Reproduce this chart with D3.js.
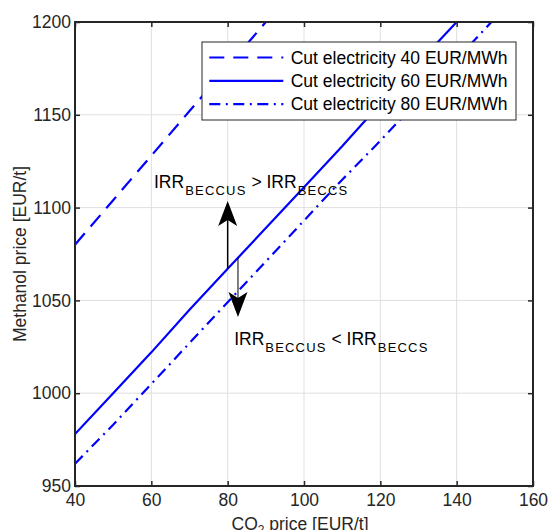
<!DOCTYPE html>
<html>
<head>
<meta charset="utf-8">
<script src="https://cdn.jsdelivr.net/npm/d3@7"></script>
<style>
  html, body { margin: 0; padding: 0; background: #fff; }
  svg { display: block; font-family: "Liberation Sans", Arial, Helvetica, sans-serif; }
</style>
</head>
<body>
<svg id="chart" width="548" height="530"></svg>
<script>
// CO2 price grid [EUR/t]
const co2Price = [40, 50, 60, 70, 80, 90, 100, 110, 120, 130, 140, 150, 160];

// Break-even methanol price [EUR/t] for each cut-electricity price
const methanolCut40 = [1080, 1104, 1128, 1152, 1176, 1200, 1224, 1248, 1272, 1296, 1320, 1344, 1368];
const methanolCut60 = [978, 1000, 1022, 1045, 1067, 1089, 1111, 1133, 1156, 1178, 1200, 1222, 1244];
const methanolCut80 = [962, 983, 1005, 1027, 1049, 1071, 1093, 1115, 1136, 1158, 1180, 1202, 1224];

const seriesNames = ["Cut electricity 40 EUR/MWh", "Cut electricity 60 EUR/MWh", "Cut electricity 80 EUR/MWh"];

const xTicks = [40, 60, 80, 100, 120, 140, 160];
const yTicks = [950, 1000, 1050, 1100, 1150, 1200];

// Arrow annotations in data units: [x, yStart, yEnd]
const arrowUp = [80, 1067, 1103.5];
const arrowDown = [82.7, 1073, 1041];

const svg = d3.select("#chart");
const plot = { left: 75, right: 533, top: 22, bottom: 486 };
const fontSize = 17.5;

const x = d3.scaleLinear().domain([40, 160]).range([plot.left, plot.right]);
const y = d3.scaleLinear().domain([950, 1200]).range([plot.bottom, plot.top]);

const axisColor = "#262626";
const gridColor = "#dfdfdf";

// Grid
const grid = svg.append("g");
grid.selectAll(".gx").data(xTicks).join("line").attr("class", "gx")
  .attr("x1", d => x(d)).attr("x2", d => x(d))
  .attr("y1", plot.top).attr("y2", plot.bottom)
  .attr("stroke", gridColor).attr("stroke-width", 1);
grid.selectAll(".gy").data(yTicks).join("line").attr("class", "gy")
  .attr("y1", d => y(d)).attr("y2", d => y(d))
  .attr("x1", plot.left).attr("x2", plot.right)
  .attr("stroke", gridColor).attr("stroke-width", 1);

// Clip for data lines
svg.append("clipPath").attr("id", "plotClip")
  .append("rect").attr("x", plot.left).attr("y", plot.top)
  .attr("width", plot.right - plot.left).attr("height", plot.bottom - plot.top);

const series = [
  { values: methanolCut40, dash: "15,9" },
  { values: methanolCut60, dash: null },
  { values: methanolCut80, dash: "11,5.5,2,5.5" }
];

const line = d3.line().x((d, i) => x(co2Price[i])).y(d => y(d));

svg.append("g").attr("clip-path", "url(#plotClip)")
  .selectAll("path").data(series).join("path")
  .attr("d", d => line(d.values))
  .attr("fill", "none")
  .attr("stroke", "#0000ff")
  .attr("stroke-width", 2.2)
  .attr("stroke-dasharray", d => d.dash);

// Arrows
function drawArrow(a, width) {
  const ax = x(a[0]), y0 = y(a[1]), y1 = y(a[2]);
  const dir = y1 < y0 ? -1 : 1;
  const headLen = 25, half = 9.5, notch = 6;
  const g = svg.append("g");
  g.append("line")
    .attr("x1", ax).attr("x2", ax)
    .attr("y1", y0).attr("y2", y1 - dir * (headLen - notch))
    .attr("stroke", "#000").attr("stroke-width", width);
  g.append("path")
    .attr("d", `M${ax},${y1} L${ax - half},${y1 - dir * headLen} L${ax},${y1 - dir * (headLen - notch)} L${ax + half},${y1 - dir * headLen} Z`)
    .attr("fill", "#000");
}
drawArrow(arrowUp, 1.5);
drawArrow(arrowDown, 1);

// Region labels with subscripts
function irrLabel(px, py, op) {
  const t = svg.append("text").attr("x", px).attr("y", py)
    .attr("font-size", fontSize).attr("fill", "#000");
  t.append("tspan").text("IRR");
  t.append("tspan").attr("dx", 1).attr("dy", 6.7).attr("font-size", 13)
    .attr("letter-spacing", 1.2).text("BECCUS");
  t.append("tspan").attr("dy", -6.7).text(" " + op + " IRR");
  t.append("tspan").attr("dx", 1).attr("dy", 6.7).attr("font-size", 13)
    .attr("letter-spacing", 1.2).text("BECCS");
}
irrLabel(x(60.7), y(1110.6), ">");
irrLabel(x(81.7), y(1026), "<");

// Axes (ticks inside the box)
const fmt = d3.format("d");
const xAxis = d3.axisBottom(x).tickValues(xTicks).tickFormat(fmt).tickSizeInner(-5).tickSizeOuter(0).tickPadding(8);
const yAxis = d3.axisLeft(y).tickValues(yTicks).tickFormat(fmt).tickSizeInner(-5).tickSizeOuter(0).tickPadding(4);
const xTop = d3.axisTop(x).tickValues(xTicks).tickSizeInner(-5).tickSizeOuter(0).tickFormat("");
const yRight = d3.axisRight(y).tickValues(yTicks).tickSizeInner(-5).tickSizeOuter(0).tickFormat("");

function styleAxis(g) {
  g.select(".domain").remove();
  g.selectAll("line").attr("stroke", axisColor).attr("stroke-width", 1.5);
  g.selectAll("text").attr("fill", axisColor).attr("font-size", fontSize)
    .attr("font-family", "'Liberation Sans', Arial, sans-serif");
}
svg.append("g").attr("transform", `translate(0,${plot.bottom})`).call(xAxis).call(styleAxis);
svg.append("g").attr("transform", `translate(${plot.left},0)`).call(yAxis).call(styleAxis);
svg.append("g").attr("transform", `translate(0,${plot.top})`).call(xTop).call(styleAxis);
svg.append("g").attr("transform", `translate(${plot.right},0)`).call(yRight).call(styleAxis);

// Box
svg.append("rect").attr("x", plot.left).attr("y", plot.top)
  .attr("width", plot.right - plot.left).attr("height", plot.bottom - plot.top)
  .attr("fill", "none").attr("stroke", axisColor).attr("stroke-width", 2);

// Axis titles
const xl = svg.append("text").attr("x", 300).attr("y", 530)
  .attr("text-anchor", "middle").attr("font-size", fontSize).attr("fill", axisColor);
xl.append("tspan").text("CO");
xl.append("tspan").attr("dy", 4).attr("font-size", 12).text("2");
xl.append("tspan").attr("dy", -4).text(" price [EUR/t]");

svg.append("text")
  .attr("transform", `translate(26,${(plot.top + plot.bottom) / 2}) rotate(-90)`)
  .attr("text-anchor", "middle").attr("font-size", fontSize).attr("fill", axisColor)
  .text("Methanol price [EUR/t]");

// Legend
const lg = svg.append("g");
lg.append("rect").attr("x", 202).attr("y", 42).attr("width", 314).attr("height", 78)
  .attr("fill", "#fff").attr("stroke", axisColor).attr("stroke-width", 1);
const rowY = [57.5, 80.8, 104.2];
series.forEach((s, i) => {
  lg.append("line").attr("x1", 209.3).attr("x2", 283.3)
    .attr("y1", rowY[i]).attr("y2", rowY[i])
    .attr("stroke", "#0000ff").attr("stroke-width", 2.2)
    .attr("stroke-dasharray", s.dash);
  lg.append("text").attr("x", 290.7).attr("y", rowY[i])
    .attr("dy", "0.35em").attr("font-size", fontSize).attr("fill", "#000")
    .text(seriesNames[i]);
});
</script>
</body>
</html>
